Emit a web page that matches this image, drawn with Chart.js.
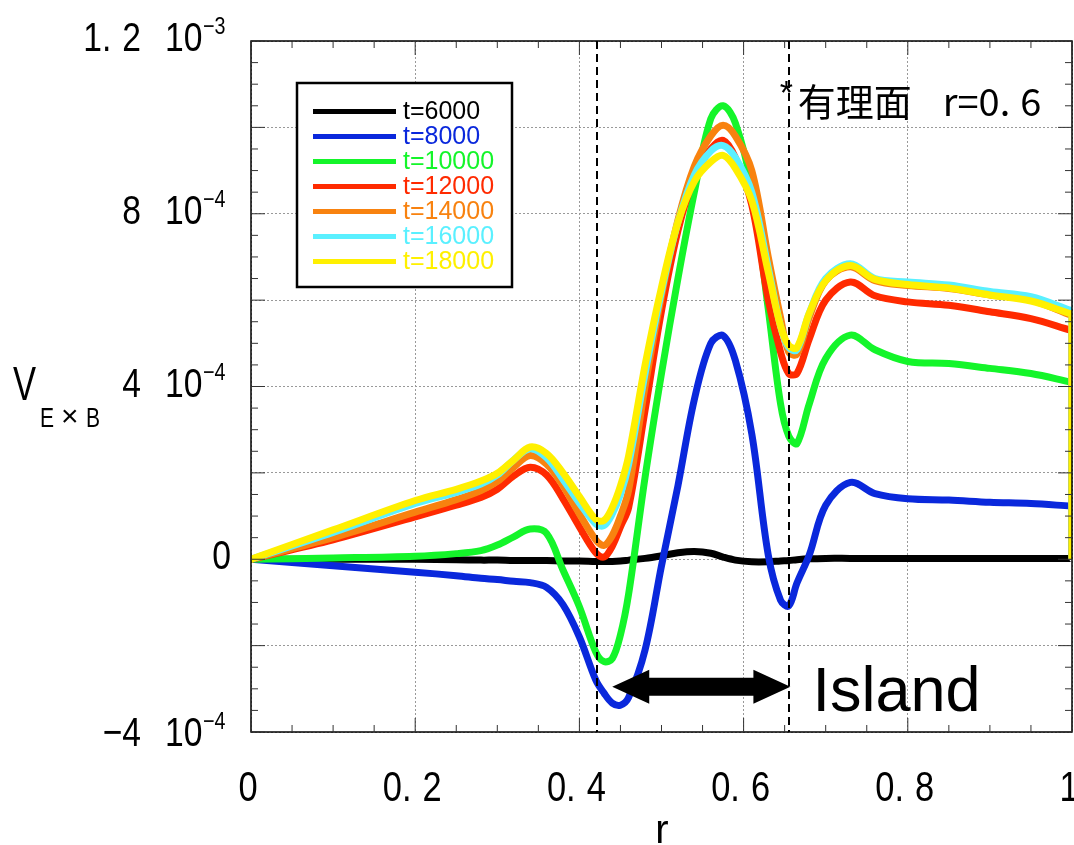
<!DOCTYPE html>
<html>
<head>
<meta charset="utf-8">
<script src="https://cdn.jsdelivr.net/npm/chart.js@4.4.0/dist/chart.umd.min.js"></script>
<style>
  html, body { margin: 0; padding: 0; background: #fff; }
  canvas { display: block; }
</style>
</head>
<body>
<canvas id="chart" width="1074" height="845"></canvas>
<script>
// r grid and V_ExB values (in units of 1e-4)
// (r = 1 appears twice: the profiles drop straight to zero at the wall)
const rValues = [0, 0.1, 0.2, 0.25, 0.28, 0.3, 0.32, 0.34, 0.36, 0.38, 0.4, 0.42, 0.43, 0.44, 0.45, 0.46, 0.48, 0.5,
                 0.52, 0.54, 0.56, 0.575, 0.59, 0.61, 0.63, 0.645, 0.655, 0.665, 0.68, 0.7, 0.73, 0.76, 0.8,
                 0.85, 0.9, 0.95, 0.999, 1.0, 1.0];

const v6000  = [0, 0, 0, -0.01, -0.02, -0.02, -0.03, -0.03, -0.03, -0.04, -0.04, -0.05, -0.05, -0.05, -0.04, -0.02, 0.02, 0.08,
                0.15, 0.18, 0.14, 0.05, -0.02, -0.06, -0.06, -0.04, -0.03, -0.01, 0.01, 0.02, 0.02, 0.02, 0.02,
                0.02, 0.02, 0.02, 0.02, 0.02, 0];
const v8000  = [0, -0.15, -0.3, -0.38, -0.44, -0.47, -0.51, -0.54, -0.65, -1.05, -1.8, -2.8, -3.1, -3.33, -3.38, -3.2, -2.1, -0.15,
                1.7, 3.7, 5.0, 5.18, 4.6, 2.9, 0.1, -0.95, -1.08, -0.55, 0.1, 1.25, 1.78, 1.52, 1.4,
                1.37, 1.32, 1.29, 1.23, 1.23, 0];
const v10000 = [0, 0.03, 0.07, 0.13, 0.2, 0.33, 0.52, 0.7, 0.6, -0.25, -1.1, -2.15, -2.37, -2.3, -1.75, -0.8, 1.9, 4.3,
                6.5, 8.5, 10.2, 10.5, 10.1, 8.6, 5.8, 3.6, 2.85, 2.68, 3.6, 4.65, 5.19, 4.85, 4.58,
                4.53, 4.42, 4.3, 4.1, 4.1, 0];
const v12000 = [0, 0.45, 0.98, 1.25, 1.43, 1.62, 1.93, 2.13, 1.95, 1.4, 0.75, 0.15, 0.05, 0.3, 0.75, 1.2, 3.45, 5.75,
                7.6, 8.85, 9.5, 9.7, 9.3, 8.2, 6.0, 4.8, 4.3, 4.3, 5.1, 6.0, 6.42, 6.1, 5.96,
                5.88, 5.73, 5.57, 5.3, 5.3, 0];
const v14000 = [0, 0.5, 1.09, 1.38, 1.59, 1.8, 2.13, 2.4, 2.2, 1.7, 1.05, 0.45, 0.32, 0.55, 1.0, 1.6, 4.0, 6.1,
                7.85, 9.1, 9.8, 10.05, 9.8, 9.0, 7.0, 5.6, 4.8, 4.75, 5.6, 6.45, 6.77, 6.45, 6.34,
                6.27, 6.12, 6.0, 5.65, 5.65, 0];
const v16000 = [0, 0.62, 1.29, 1.55, 1.74, 1.95, 2.3, 2.56, 2.35, 1.85, 1.3, 0.82, 0.78, 1.05, 1.5, 2.2, 4.3, 6.2,
                7.8, 8.9, 9.45, 9.58, 9.3, 8.5, 6.75, 5.4, 4.9, 4.85, 5.7, 6.5, 6.84, 6.5, 6.42,
                6.35, 6.2, 6.08, 5.76, 5.76, 0];
const v18000 = [0, 0.68, 1.36, 1.62, 1.81, 1.99, 2.3, 2.6, 2.45, 2.0, 1.45, 0.92, 0.9, 1.2, 1.7, 2.4, 4.5, 6.3,
                7.8, 8.75, 9.2, 9.35, 9.05, 8.3, 6.65, 5.4, 4.95, 4.9, 5.7, 6.45, 6.8, 6.48, 6.36,
                6.28, 6.12, 5.98, 5.68, 5.68, 0];

const seriesLabels = ['t=6000', 't=8000', 't=10000', 't=12000', 't=14000', 't=16000', 't=18000'];
const seriesValues = [v6000, v8000, v10000, v12000, v14000, v16000, v18000];
const seriesColors = ['#000000', '#0a28dc', '#14f52a', '#ff2a00', '#f8820f', '#5af0ff', '#fff000'];

// axis labels (y in units of 1e-4)
const yLabelValues   = [12, 8, 4, 0, -4];
const yLabelMantissa = ['1.2', '8', '4', '0', '\u22124'];
const yLabelExponent = ['\u22123', '\u22124', '\u22124', '', '\u22124'];
const xLabelValues   = [0, 0.2, 0.4, 0.6, 0.8, 1];
const xLabelText     = ['0', '0.2', '0.4', '0.6', '0.8', '1'];

// annotations
const rationalSurfaces = [0.421, 0.655];
const islandRange = [0.44, 0.657];
const islandLevel = -2.95;

const SANS = "'Liberation Sans', Arial, sans-serif";
const CJK = "'Noto Sans CJK JP', sans-serif";
const SQUEEZE = 0.82;   // the original labels use a narrow face

// text drawn with a horizontal squeeze; a '.' gets a wide gap after it like the original font
function drawNum(ctx, text, x, y, align, gap, sx) {
    sx = sx || 1;
    const idx = text.indexOf('.');
    const a = idx < 0 ? text : text.slice(0, idx + 1);
    const b = idx < 0 ? '' : text.slice(idx + 1);
    const wa = ctx.measureText(a).width * sx;
    const wb = b ? ctx.measureText(b).width * sx : 0;
    const total = wa + (b ? gap + wb : 0);
    let left = x;
    if (align === 'center') left = x - total / 2;
    if (align === 'right') left = x - total;
    ctx.save();
    ctx.textAlign = 'left';
    ctx.translate(left, y);
    ctx.scale(sx, 1);
    ctx.fillText(a, 0, 0);
    if (b) ctx.fillText(b, (wa + gap) / sx, 0);
    ctx.restore();
}

const decorations = {
    id: 'decorations',
    afterDatasetsDraw(chart) {
        const ctx = chart.ctx;
        const xs = chart.scales.x, ys = chart.scales.y;
        const area = chart.chartArea;

        // rational surface dashed lines
        ctx.save();
        ctx.strokeStyle = '#000';
        ctx.lineWidth = 2;
        ctx.setLineDash([8, 5]);
        rationalSurfaces.forEach(r => {
            const px = Math.round(xs.getPixelForValue(r));
            ctx.beginPath();
            ctx.moveTo(px, area.top);
            ctx.lineTo(px, area.bottom);
            ctx.stroke();
        });
        ctx.restore();

        // island double arrow
        const ax0 = xs.getPixelForValue(islandRange[0]);
        const ax1 = xs.getPixelForValue(islandRange[1]);
        const ay = ys.getPixelForValue(islandLevel);
        const headL = 37, headH = 17, shaft = 9;
        ctx.save();
        ctx.fillStyle = '#000';
        ctx.beginPath();
        ctx.moveTo(ax0, ay);
        ctx.lineTo(ax0 + headL, ay - headH);
        ctx.lineTo(ax0 + headL, ay - shaft);
        ctx.lineTo(ax1 - headL, ay - shaft);
        ctx.lineTo(ax1 - headL, ay - headH);
        ctx.lineTo(ax1, ay);
        ctx.lineTo(ax1 - headL, ay + headH);
        ctx.lineTo(ax1 - headL, ay + shaft);
        ctx.lineTo(ax0 + headL, ay + shaft);
        ctx.lineTo(ax0 + headL, ay + headH);
        ctx.closePath();
        ctx.fill();

        ctx.font = '63px ' + SANS;
        ctx.textAlign = 'left';
        ctx.textBaseline = 'alphabetic';
        ctx.fillText('Island', ax1 + 22, ay + 24);

        // rational surface note
        const sx = xs.getPixelForValue(rationalSurfaces[1]);
        ctx.font = '34px ' + SANS;
        ctx.fillText('*', sx - 9, 104);
        ctx.font = '38px ' + CJK;
        ctx.fillText('有理面', sx + 9, 116);
        drawNum(ctx, 'r=0.6', sx + 154, 116, 'left', 10);
        ctx.restore();
    },
    afterDraw(chart) {
        const ctx = chart.ctx;
        const xs = chart.scales.x, ys = chart.scales.y;
        const a = chart.chartArea;

        ctx.save();
        // frame
        ctx.strokeStyle = '#000';
        ctx.lineWidth = 1.5;
        ctx.strokeRect(a.left, a.top, a.right - a.left, a.bottom - a.top);

        // inward ticks on all sides
        ctx.lineWidth = 1;
        ctx.strokeStyle = '#333';
        ctx.beginPath();
        for (let i = 0; i <= 20; i++) {
            const px = xs.getPixelForValue(i * 0.05);
            const len = i % 4 === 0 ? 14 : 7;
            ctx.moveTo(px, a.bottom); ctx.lineTo(px, a.bottom - len);
            ctx.moveTo(px, a.top); ctx.lineTo(px, a.top + len);
        }
        for (let i = 0; i <= 32; i++) {
            const py = ys.getPixelForValue(-4 + i * 0.5);
            const len = i % 4 === 0 ? 14 : 7;
            ctx.moveTo(a.left, py); ctx.lineTo(a.left + len, py);
            ctx.moveTo(a.right, py); ctx.lineTo(a.right - len, py);
        }
        ctx.stroke();

        // y tick labels
        ctx.fillStyle = '#000';
        ctx.textBaseline = 'alphabetic';
        yLabelValues.forEach((v, i) => {
            const py = ys.getPixelForValue(v);
            const base = py + (i === yLabelValues.length - 1 ? 14 : 10);
            ctx.font = '41px ' + SANS;
            if (yLabelExponent[i]) {
                drawNum(ctx, yLabelMantissa[i], 141, base, 'right', 11, SQUEEZE);
                drawNum(ctx, '10', 165, base, 'left', 0, SQUEEZE);
                ctx.font = '24px ' + SANS;
                drawNum(ctx, yLabelExponent[i], 203, base - 17, 'left', 0, SQUEEZE);
            } else {
                drawNum(ctx, yLabelMantissa[i], 231, base, 'right', 11, SQUEEZE);
            }
        });

        // x tick labels
        ctx.font = '42px ' + SANS;
        xLabelValues.forEach((v, i) => {
            const px = xs.getPixelForValue(v);
            drawNum(ctx, xLabelText[i], px - 3, 801, 'center', 11, SQUEEZE);
        });

        // axis titles
        ctx.font = '40px ' + SANS;
        drawNum(ctx, 'r', 662, 843, 'center', 0);
        ctx.font = '48px ' + SANS;
        drawNum(ctx, 'V', 13, 400, 'left', 0, 0.72);
        ctx.font = '27px ' + SANS;
        drawNum(ctx, 'E', 40, 427, 'left', 0, 0.78);
        ctx.font = '30px ' + SANS;
        drawNum(ctx, '\u00d7', 61, 426, 'left', 0, 1);
        ctx.font = '27px ' + SANS;
        drawNum(ctx, 'B', 86, 427, 'left', 0, 0.78);

        // legend
        const lx = 297, ly = 83, lw = 215, lh = 204;
        ctx.fillStyle = '#fff';
        ctx.fillRect(lx, ly, lw, lh);
        ctx.strokeStyle = '#000';
        ctx.lineWidth = 2.5;
        ctx.strokeRect(lx, ly, lw, lh);
        ctx.font = '25px ' + SANS;
        ctx.textBaseline = 'middle';
        ctx.textAlign = 'left';
        chart.data.datasets.forEach((ds, i) => {
            const y = ly + 28.5 + i * 25;
            ctx.strokeStyle = ds.borderColor;
            ctx.lineWidth = 5;
            ctx.beginPath();
            ctx.moveTo(lx + 16, y);
            ctx.lineTo(lx + 99, y);
            ctx.stroke();
            ctx.fillStyle = ds.borderColor;
            ctx.fillText(ds.label, lx + 106, y + 1);
        });
        ctx.restore();
    }
};

const datasets = seriesValues.map((vals, i) => ({
    label: seriesLabels[i],
    data: rValues.map((r, k) => ({ x: r, y: vals[k] })),
    borderColor: seriesColors[i],
    backgroundColor: seriesColors[i],
    borderWidth: 7,
    pointRadius: 0,
    tension: 0.35,
    fill: false,
    order: seriesValues.length - 1 - i
}));

new Chart(document.getElementById('chart'), {
    type: 'line',
    data: { datasets: datasets },
    options: {
        responsive: false,
        animation: false,
        devicePixelRatio: 1,
        layout: { padding: { left: 251, right: 2, top: 41, bottom: 113 } },
        plugins: { legend: { display: false }, tooltip: { enabled: false } },
        scales: {
            x: {
                type: 'linear',
                min: 0,
                max: 1,
                ticks: { display: false, stepSize: 0.2 },
                grid: { color: '#999', lineWidth: 1, drawTicks: false },
                border: { display: false, dash: [2, 2] }
            },
            y: {
                type: 'linear',
                min: -4,
                max: 12,
                ticks: { display: false, stepSize: 2 },
                grid: { color: '#999', lineWidth: 1, drawTicks: false },
                border: { display: false, dash: [2, 2] }
            }
        }
    },
    plugins: [decorations]
});
</script>
</body>
</html>
